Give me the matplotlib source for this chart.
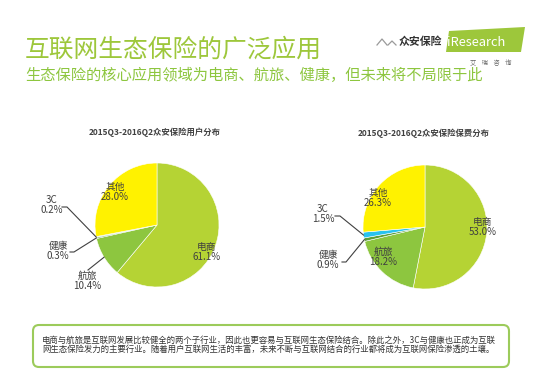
import matplotlib
matplotlib.use("Agg")
import numpy as np
import matplotlib.pyplot as plt
from matplotlib.patches import FancyBboxPatch, Polygon

plt.rcParams["font.family"] = ["Noto Sans CJK SC", "DejaVu Sans"]

W, H = 553, 387

# data
categories = ["电商", "航旅", "健康", "3C", "其他"]
users_share = [61.1, 10.4, 0.3, 0.2, 28.0]
premium_share = [53.0, 18.2, 0.9, 1.5, 26.3]
COLORS = ["#B5D334", "#8DC63F", "#5E9E36", "#29C3EE", "#FFF200"]

title = "互联网生态保险的广泛应用"
subtitle = "生态保险的核心应用领域为电商、航旅、健康，但未来将不局限于此"
pie_titles = ["2015Q3-2016Q2众安保险用户分布", "2015Q3-2016Q2众安保险保费分布"]
note_lines = [
    "电商与航旅是互联网发展比较健全的两个子行业，因此也更容易与互联网生态保险结合。除此之外，3C与健康也正成为互联",
    "网生态保险发力的主要行业。随着用户互联网生活的丰富，未来不断与互联网结合的行业都将成为互联网保险渗透的土壤。",
]

# layout (pixel coords): pie centre, radius, label positions, leader lines
PIES = [
    dict(values=users_share, cx=157, cy=225, r=62, title_xy=(155, 132),
         labels={"电商": (207, 252), "其他": (115, 192), "3C": (52, 205),
                 "健康": (58, 251), "航旅": (87, 281)},
         leaders={"3C": [(62, 207), (67, 207)], "健康": [(70, 252), (74, 252)],
                  "航旅": [(88, 270)]}),
    dict(values=premium_share, cx=425, cy=227, r=62, title_xy=(424, 133),
         labels={"电商": (483, 227), "其他": (378, 198), "3C": (323, 214),
                 "健康": (328, 260), "航旅": (383, 257)},
         leaders={"3C": [(335, 216), (340, 216)], "健康": [(342, 262), (346, 262)]}),
]

fig = plt.figure(figsize=(W / 100, H / 100), dpi=100)
fig.patch.set_facecolor("white")

# overlay axes in pixel units for texts / lines
ax0 = fig.add_axes([0, 0, 1, 1])
ax0.set_xlim(0, W)
ax0.set_ylim(H, 0)
ax0.axis("off")
ax0.set_zorder(3)
ax0.patch.set_alpha(0)

ax0.text(25, 50, title, fontsize=17.8, color="#9DC73B", va="center", ha="left")
ax0.text(25, 75, subtitle, fontsize=11, color="#8DC63F", va="center", ha="left")

# logo
ax0.plot([377, 382, 387], [45, 39, 45], color="#9A9A9A", lw=0.9)
ax0.plot([388, 392, 396], [45, 41, 45], color="#9A9A9A", lw=0.9)
ax0.text(399, 42, "众安保险", fontsize=7.8, fontweight="bold", color="#333333",
         va="center", ha="left")
ax0.add_patch(Polygon([(449, 31), (525, 27), (521, 52), (446, 52)],
                      closed=True, facecolor="#9DC73B", edgecolor="none"))
ax0.text(447, 42, "iResearch", fontsize=9.3, color="white", va="center", ha="left")
ax0.text(491, 63, "艾    瑞    咨    询", fontsize=4.5, color="#666666",
         va="center", ha="center")

for p, ptitle in zip(PIES, pie_titles):
    cx, cy, r = p["cx"], p["cy"], p["r"]
    ax = fig.add_axes([(cx - r) / W, 1 - (cy + r) / H, 2 * r / W, 2 * r / H])
    wedges, _ = ax.pie(p["values"], colors=COLORS, startangle=90, counterclock=False,
                       wedgeprops=dict(edgecolor="white", linewidth=0.4))
    ax.set_xlim(-1, 1)
    ax.set_ylim(-1, 1)
    ax.axis("off")

    tx, ty = p["title_xy"]
    ax0.text(tx, ty, ptitle, fontsize=6, fontweight="bold", color="#404040",
             ha="center", va="center")

    for cat, val, w in zip(categories, p["values"], wedges):
        lx, ly = p["labels"][cat]
        ax0.text(lx, ly, f"{cat}\n{val:.1f}%", fontsize=7, color="#404040",
                 ha="center", va="center", linespacing=1.0)
        if cat in p["leaders"]:
            mid = np.deg2rad((w.theta1 + w.theta2) / 2)
            ex, ey = cx + r * np.cos(mid), cy - r * np.sin(mid)
            pts = p["leaders"][cat] + [(ex, ey)]
            ax0.plot([q[0] for q in pts], [q[1] for q in pts], color="#404040", lw=0.8)

# note box
ax0.add_patch(FancyBboxPatch((33, 325), 476, 42, boxstyle="round,pad=0,rounding_size=6",
                             facecolor="white", edgecolor="#9CCB5B", linewidth=1.5))
for i, line in enumerate(note_lines):
    ax0.text(42, 340 + i * 9.5, line, fontsize=6.05, color="#333333", ha="left", va="center")

fig.savefig("out.png", dpi=100)
